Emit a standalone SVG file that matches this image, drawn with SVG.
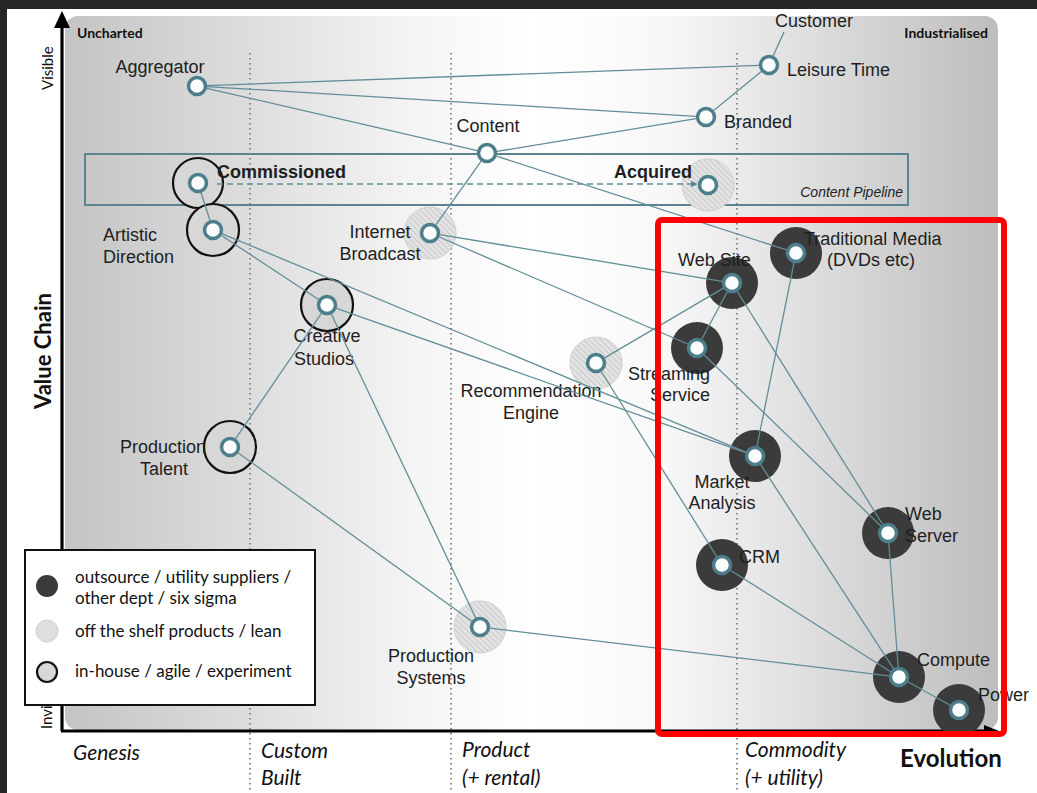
<svg xmlns="http://www.w3.org/2000/svg" width="1037" height="793" viewBox="0 0 1037 793">
<defs>
<linearGradient id="bg" x1="65" y1="0" x2="998" y2="0" gradientUnits="userSpaceOnUse">
<stop offset="0" stop-color="#c4c4c4"/>
<stop offset="0.38" stop-color="#f5f5f5"/>
<stop offset="0.5" stop-color="#ffffff"/>
<stop offset="0.64" stop-color="#f8f8f8"/>
<stop offset="1" stop-color="#bdbdbd"/>
</linearGradient>
<pattern id="hatch" patternUnits="userSpaceOnUse" width="4" height="4" patternTransform="rotate(-45)">
<rect width="4" height="4" fill="#e3e3e3"/>
<line x1="0" y1="0" x2="0" y2="4" stroke="#bdbdbd" stroke-width="1.3"/>
</pattern>
<marker id="arr" viewBox="0 0 10 10" refX="9" refY="5" markerWidth="5" markerHeight="5" orient="auto" markerUnits="strokeWidth">
<path d="M0,0 L10,5 L0,10 z" fill="#5a8593"/>
</marker>
<style>
.lbl{font-family:"Liberation Sans",Arial,sans-serif;font-size:18px;fill:#1e1e1e}
.b{font-weight:bold}
.gill{font-family:Lato,"Open Sans",sans-serif;fill:#111}
.dot{stroke:#8a8a8a;stroke-width:2;stroke-dasharray:1.6 3.4}
.out{fill:#3b3b3b}
.shelf{fill:url(#hatch);stroke:#cfcfcf;stroke-width:1}
.inh{fill:#d7d7d7;stroke:#111;stroke-width:2.2}
.inner{fill:#fbfdfd;stroke:#4d7e8b;stroke-width:3.5}
.con line{stroke:#628d99;stroke-width:1.3;fill:none}
</style>
</defs>

<!-- page -->
<rect x="0" y="0" width="1037" height="793" fill="#ffffff"/>
<rect x="0" y="0" width="1037" height="9" fill="#262626"/>
<rect x="0" y="0" width="7" height="793" fill="#262626"/>

<!-- map background -->
<rect x="65" y="16" width="933" height="714" rx="13" fill="url(#bg)"/>

<!-- dotted stage lines -->
<g id="stages">
<line class="dot" x1="250" y1="53" x2="250" y2="792"/>
<line class="dot" x1="451" y1="53" x2="451" y2="792"/>
<line class="dot" x1="737" y1="53" x2="737" y2="792"/>
</g>

<!-- axes -->
<g id="axes">
<line x1="62" y1="731" x2="62" y2="24" stroke="#000" stroke-width="3.2"/>
<polygon points="62,11 54,28 70,28" fill="#000"/>
<line x1="61" y1="731" x2="990" y2="731" stroke="#000" stroke-width="3.2"/>
<polygon points="999,731 984,725 984,737" fill="#000"/>
<text class="gill" font-size="15" transform="translate(53,90) rotate(-90)">Visible</text>
<text class="gill" font-size="15" transform="translate(52,729) rotate(-90)">Invisible</text>
<text class="gill b" font-size="22" text-anchor="middle" transform="translate(51,351) rotate(-90)">Value Chain</text>
<text class="gill b" font-size="14" x="77" y="38">Uncharted</text>
<text class="gill b" font-size="14" x="988" y="38" text-anchor="end">Industrialised</text>
<g class="gill" font-size="21" font-style="italic">
<text x="73" y="760">Genesis</text>
<text x="261" y="758">Custom</text>
<text x="261" y="785">Built</text>
<text x="462" y="757">Product</text>
<text x="462" y="785">(+ rental)</text>
<text x="745" y="757">Commodity</text>
<text x="745" y="785">(+ utility)</text>
</g>
<text class="gill b" font-size="24" x="900" y="767">Evolution</text>
</g>

<!-- content pipeline box -->
<g id="content-pipeline">
<rect x="85" y="154" width="823" height="51" fill="none" stroke="#5a8492" stroke-width="2"/>
<text class="lbl" style="font-size:14px;font-style:italic" x="903" y="197" text-anchor="end">Content Pipeline</text>
</g>

<!-- outer rings of nodes -->
<g id="rings">
<circle class="inh" cx="198" cy="183" r="25"/>
<circle class="inh" cx="213" cy="230" r="26"/>
<circle class="shelf" cx="708" cy="185" r="26"/>
<circle class="shelf" cx="430" cy="233" r="26"/>
<circle class="inh" cx="327" cy="305" r="26"/>
<circle class="inh" cx="230" cy="447" r="26"/>
<circle class="shelf" cx="596" cy="363" r="26"/>
<circle class="out" cx="732" cy="283" r="26"/>
<circle class="out" cx="796" cy="253" r="26"/>
<circle class="out" cx="697" cy="348" r="26"/>
<circle class="out" cx="755" cy="456" r="26"/>
<circle class="out" cx="888" cy="533" r="26"/>
<circle class="out" cx="722" cy="565" r="26"/>
<circle class="shelf" cx="480" cy="627" r="26"/>
<circle class="out" cx="899" cy="677" r="26"/>
<circle class="out" cx="959" cy="710" r="26"/>
</g>

<!-- nodes -->
<g id="node-customer"><text class="lbl" x="814" y="27" text-anchor="middle">Customer</text></g>
<g id="node-leisure-time"><circle class="inner" cx="769" cy="65" r="8.5"/><text class="lbl" x="787" y="76">Leisure Time</text></g>
<g id="node-aggregator"><circle class="inner" cx="197" cy="86" r="8.5"/><text class="lbl" x="160" y="73" text-anchor="middle">Aggregator</text></g>
<g id="node-branded"><circle class="inner" cx="706" cy="117" r="8.5"/><text class="lbl" x="724" y="128">Branded</text></g>
<g id="node-content"><circle class="inner" cx="487" cy="153" r="8.5"/><text class="lbl" x="488" y="132" text-anchor="middle">Content</text></g>
<g id="node-commissioned"><circle class="inner" cx="198" cy="183" r="8.5"/><text class="lbl b" x="217" y="178">Commissioned</text></g>
<g id="node-acquired"><circle class="inner" cx="708" cy="185" r="8.5"/><text class="lbl b" x="614" y="178">Acquired</text></g>
<g id="node-artistic-direction"><circle class="inner" cx="213" cy="230" r="8.5"/><text class="lbl" x="103" y="241">Artistic</text><text class="lbl" x="103" y="263">Direction</text></g>
<g id="node-internet-broadcast"><circle class="inner" cx="430" cy="233" r="8.5"/><text class="lbl" x="380" y="238" text-anchor="middle">Internet</text><text class="lbl" x="380" y="260" text-anchor="middle">Broadcast</text></g>
<g id="node-creative-studios"><circle class="inner" cx="327" cy="305" r="8.5"/><text class="lbl" x="327" y="342" text-anchor="middle">Creative</text><text class="lbl" x="324" y="365" text-anchor="middle">Studios</text></g>
<g id="node-production-talent"><circle class="inner" cx="230" cy="447" r="8.5"/><text class="lbl" x="163" y="453" text-anchor="middle">Production</text><text class="lbl" x="164" y="475" text-anchor="middle">Talent</text></g>
<g id="node-recommendation-engine"><circle class="inner" cx="596" cy="363" r="8.5"/><text class="lbl" x="531" y="397" text-anchor="middle">Recommendation</text><text class="lbl" x="531" y="419" text-anchor="middle">Engine</text></g>
<g id="node-web-site"><circle class="inner" cx="732" cy="283" r="8.5"/><text class="lbl" x="678" y="266">Web Site</text></g>
<g id="node-traditional-media"><circle class="inner" cx="796" cy="253" r="8.5"/><text class="lbl" x="804" y="245">Traditional Media</text><text class="lbl" x="827" y="266">(DVDs etc)</text></g>
<g id="node-streaming-service"><circle class="inner" cx="697" cy="348" r="8.5"/><text class="lbl" x="710" y="380" text-anchor="end">Streaming</text><text class="lbl" x="710" y="401" text-anchor="end">Service</text></g>
<g id="node-market-analysis"><circle class="inner" cx="755" cy="456" r="8.5"/><text class="lbl" x="722" y="488" text-anchor="middle">Market</text><text class="lbl" x="722" y="509" text-anchor="middle">Analysis</text></g>
<g id="node-web-server"><circle class="inner" cx="888" cy="533" r="8.5"/><text class="lbl" x="905" y="520">Web</text><text class="lbl" x="905" y="542">Server</text></g>
<g id="node-crm"><circle class="inner" cx="722" cy="565" r="8.5"/><text class="lbl" x="739" y="563">CRM</text></g>
<g id="node-production-systems"><circle class="inner" cx="480" cy="627" r="8.5"/><text class="lbl" x="431" y="662" text-anchor="middle">Production</text><text class="lbl" x="431" y="684" text-anchor="middle">Systems</text></g>
<g id="node-compute"><circle class="inner" cx="899" cy="677" r="8.5"/><text class="lbl" x="917" y="666">Compute</text></g>
<g id="node-power"><circle class="inner" cx="959" cy="710" r="8.5"/><text class="lbl" x="978" y="701">Power</text></g>

<!-- connectors -->
<g id="connectors" class="con">
<line x1="784" y1="32" x2="773.1" y2="55.9"/>
<line x1="207" y1="85.6" x2="759" y2="65.4"/>
<line x1="207" y1="86.6" x2="696" y2="116.4"/>
<line x1="206.7" y1="88.3" x2="477.3" y2="150.7"/>
<line x1="761.3" y1="71.4" x2="713.7" y2="110.6"/>
<line x1="496.9" y1="151.4" x2="696.1" y2="118.6"/>
<line x1="481.2" y1="161.1" x2="435.8" y2="224.9"/>
<line x1="496.5" y1="156.1" x2="786.5" y2="249.9"/>
<line x1="201" y1="192.5" x2="210" y2="220.5"/>
<line x1="221.4" y1="235.5" x2="318.6" y2="299.5"/>
<line x1="222.2" y1="233.8" x2="745.8" y2="452.2"/>
<line x1="336.4" y1="308.3" x2="745.6" y2="452.7"/>
<line x1="321.4" y1="313.3" x2="235.6" y2="438.7"/>
<line x1="331.3" y1="314" x2="475.7" y2="618"/>
<line x1="238.1" y1="452.8" x2="471.9" y2="621.2"/>
<line x1="439.9" y1="234.6" x2="722.1" y2="281.4"/>
<line x1="439.2" y1="237" x2="687.8" y2="344"/>
<line x1="604.6" y1="357.9" x2="723.4" y2="288.1"/>
<line x1="601.3" y1="371.5" x2="716.7" y2="556.5"/>
<line x1="727.3" y1="291.8" x2="701.7" y2="339.2"/>
<line x1="737.3" y1="291.5" x2="882.7" y2="524.5"/>
<line x1="794" y1="262.8" x2="757" y2="446.2"/>
<line x1="704.2" y1="355" x2="880.8" y2="526"/>
<line x1="760.5" y1="464.4" x2="893.5" y2="668.6"/>
<line x1="730.4" y1="570.3" x2="890.6" y2="671.7"/>
<line x1="888.8" y1="543" x2="898.2" y2="667"/>
<line x1="489.9" y1="628.2" x2="889.1" y2="675.8"/>
<line x1="907.8" y1="681.8" x2="950.2" y2="705.2"/>
<line x1="217" y1="184" x2="697" y2="184" stroke="#5a8593" stroke-width="2" stroke-dasharray="6 4" marker-end="url(#arr)"/>
</g>

<!-- legend -->
<g id="legend">
<rect x="25" y="550" width="290" height="155" fill="#ffffff" stroke="#111" stroke-width="2"/>
<circle cx="47" cy="586" r="11" fill="#3b3b3b"/>
<circle cx="47" cy="631" r="11" fill="#dedede" stroke="#cfcfcf" stroke-width="1"/>
<circle cx="47" cy="672" r="10" fill="#d7d7d7" stroke="#111" stroke-width="2.2"/>
<g class="gill" font-size="17">
<text x="75" y="583">outsource / utility suppliers /</text>
<text x="75" y="604">other dept / six sigma</text>
<text x="75" y="637">off the shelf products / lean</text>
<text x="75" y="677">in-house / agile / experiment</text>
</g>
</g>

<!-- highlight box -->
<rect id="highlight" x="658" y="220" width="346" height="514" rx="4" fill="none" stroke="#ff0000" stroke-width="6"/>
</svg>
